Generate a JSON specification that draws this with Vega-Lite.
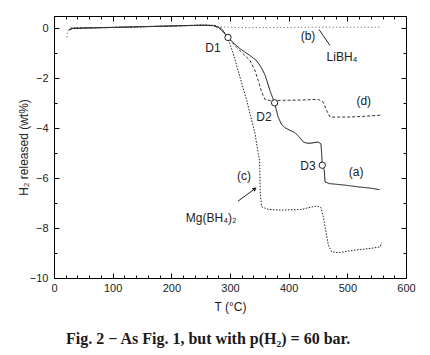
{
  "$schema": "https://vega.github.io/schema/vega-lite/v6.json",
  "width": 352,
  "height": 262,
  "autosize": "none",
  "padding": {"left": 54, "top": 16, "right": 24, "bottom": 77},
  "background": "white",
  "config": {
    "view": {"stroke": "#000", "strokeWidth": 1},
    "axis": {"domain": false, "grid": false, "labelFont": "Liberation Sans", "labelFontSize": 11, "labelColor": "#222", "tickColor": "#000", "tickWidth": 1, "titleFont": "Liberation Sans", "titleFontWeight": "normal", "titleFontSize": 12, "titleColor": "#222"},
    "text": {"font": "Liberation Sans", "fontSize": 12, "color": "#222"}
  },
  "title": {"text": "Fig. 2 − As Fig. 1, but with p(H₂) = 60 bar.", "orient": "bottom", "anchor": "start", "frame": "group", "dx": 12, "offset": 19, "font": "Liberation Serif", "fontSize": 16, "fontWeight": "bold", "color": "#1a1a1a"},
  "datasets": {
    "curves": [
      {"s": "a", "T": 26, "H": -0.05}, {"s": "a", "T": 30, "H": 0.0}, {"s": "a", "T": 60, "H": 0.02}, {"s": "a", "T": 100, "H": 0.04}, {"s": "a", "T": 150, "H": 0.07}, {"s": "a", "T": 200, "H": 0.1}, {"s": "a", "T": 250, "H": 0.13}, {"s": "a", "T": 272, "H": 0.12}, {"s": "a", "T": 282, "H": 0.02}, {"s": "a", "T": 290, "H": -0.18}, {"s": "a", "T": 297, "H": -0.38}, {"s": "a", "T": 307, "H": -0.6}, {"s": "a", "T": 317, "H": -0.81}, {"s": "a", "T": 332, "H": -1.05}, {"s": "a", "T": 345, "H": -1.28}, {"s": "a", "T": 353, "H": -1.55}, {"s": "a", "T": 360, "H": -1.88}, {"s": "a", "T": 368, "H": -2.48}, {"s": "a", "T": 376, "H": -2.98}, {"s": "a", "T": 382, "H": -3.55}, {"s": "a", "T": 388, "H": -3.85}, {"s": "a", "T": 394, "H": -3.98}, {"s": "a", "T": 402, "H": -4.08}, {"s": "a", "T": 411, "H": -4.18}, {"s": "a", "T": 418, "H": -4.35}, {"s": "a", "T": 425, "H": -4.55}, {"s": "a", "T": 432, "H": -4.6}, {"s": "a", "T": 440, "H": -4.59}, {"s": "a", "T": 450, "H": -4.55}, {"s": "a", "T": 455, "H": -4.62}, {"s": "a", "T": 456.5, "H": -5.1}, {"s": "a", "T": 457.3, "H": -5.48}, {"s": "a", "T": 460.7, "H": -5.68}, {"s": "a", "T": 462, "H": -6.15}, {"s": "a", "T": 470, "H": -6.22}, {"s": "a", "T": 480, "H": -6.24}, {"s": "a", "T": 500, "H": -6.29}, {"s": "a", "T": 519, "H": -6.35}, {"s": "a", "T": 540, "H": -6.4}, {"s": "a", "T": 555, "H": -6.46},
      {"s": "b", "T": 22, "H": -0.35}, {"s": "b", "T": 23.5, "H": -0.05}, {"s": "b", "T": 30, "H": 0.02}, {"s": "b", "T": 100, "H": 0.05}, {"s": "b", "T": 200, "H": 0.1}, {"s": "b", "T": 260, "H": 0.13}, {"s": "b", "T": 290, "H": 0.06}, {"s": "b", "T": 330, "H": 0.03}, {"s": "b", "T": 380, "H": 0.04}, {"s": "b", "T": 430, "H": 0.05}, {"s": "b", "T": 480, "H": 0.05}, {"s": "b", "T": 520, "H": 0.05}, {"s": "b", "T": 555, "H": 0.05},
      {"s": "c", "T": 25, "H": -0.08}, {"s": "c", "T": 30, "H": 0.02}, {"s": "c", "T": 80, "H": 0.03}, {"s": "c", "T": 140, "H": 0.06}, {"s": "c", "T": 200, "H": 0.1}, {"s": "c", "T": 250, "H": 0.14}, {"s": "c", "T": 275, "H": 0.12}, {"s": "c", "T": 286, "H": 0.0}, {"s": "c", "T": 294, "H": -0.28}, {"s": "c", "T": 300, "H": -0.62}, {"s": "c", "T": 305.6, "H": -1.01}, {"s": "c", "T": 317, "H": -1.95}, {"s": "c", "T": 328.5, "H": -2.88}, {"s": "c", "T": 334, "H": -3.41}, {"s": "c", "T": 342.6, "H": -4.2}, {"s": "c", "T": 348, "H": -5.0}, {"s": "c", "T": 350.5, "H": -5.3}, {"s": "c", "T": 351.5, "H": -6.6}, {"s": "c", "T": 354, "H": -7.15}, {"s": "c", "T": 365, "H": -7.25}, {"s": "c", "T": 388, "H": -7.28}, {"s": "c", "T": 422, "H": -7.25}, {"s": "c", "T": 440, "H": -7.15}, {"s": "c", "T": 447.6, "H": -7.12}, {"s": "c", "T": 455, "H": -7.17}, {"s": "c", "T": 459, "H": -7.55}, {"s": "c", "T": 463.6, "H": -8.15}, {"s": "c", "T": 467.6, "H": -8.68}, {"s": "c", "T": 473.3, "H": -8.95}, {"s": "c", "T": 484.6, "H": -8.99}, {"s": "c", "T": 513, "H": -8.88}, {"s": "c", "T": 541.5, "H": -8.81}, {"s": "c", "T": 555.6, "H": -8.75}, {"s": "c", "T": 558.5, "H": -8.59},
      {"s": "d", "T": 27, "H": -0.06}, {"s": "d", "T": 32, "H": 0.01}, {"s": "d", "T": 90, "H": 0.04}, {"s": "d", "T": 160, "H": 0.08}, {"s": "d", "T": 220, "H": 0.11}, {"s": "d", "T": 265, "H": 0.13}, {"s": "d", "T": 280, "H": 0.05}, {"s": "d", "T": 290, "H": -0.15}, {"s": "d", "T": 297, "H": -0.38}, {"s": "d", "T": 311, "H": -0.75}, {"s": "d", "T": 334, "H": -1.28}, {"s": "d", "T": 342, "H": -1.65}, {"s": "d", "T": 348, "H": -2.08}, {"s": "d", "T": 354, "H": -2.55}, {"s": "d", "T": 359.6, "H": -2.85}, {"s": "d", "T": 370, "H": -2.9}, {"s": "d", "T": 388, "H": -2.88}, {"s": "d", "T": 420, "H": -2.87}, {"s": "d", "T": 450.5, "H": -2.84}, {"s": "d", "T": 459, "H": -2.95}, {"s": "d", "T": 465, "H": -3.3}, {"s": "d", "T": 470.5, "H": -3.55}, {"s": "d", "T": 501.6, "H": -3.55}, {"s": "d", "T": 530, "H": -3.52}, {"s": "d", "T": 558.5, "H": -3.47}
    ],
    "circles": [
      {"T": 296.6, "H": -0.36}, {"T": 376, "H": -2.98}, {"T": 457.3, "H": -5.48}
    ],
    "labels": [
      {"t": "D1", "T": 271, "H": -0.8}, {"t": "(b)", "T": 433, "H": -0.32}, {"t": "LiBH₄", "T": 491, "H": -1.16}, {"t": "(d)", "T": 528, "H": -2.92}, {"t": "D2", "T": 358, "H": -3.56}, {"t": "D3", "T": 433, "H": -5.52}, {"t": "(a)", "T": 515, "H": -5.76}, {"t": "(c)", "T": 324, "H": -5.92}, {"t": "Mg(BH₄)₂", "T": 268, "H": -7.6}
    ],
    "leaders": [
      {"T": 451.7, "H": -0.04, "T2": 470.4, "H2": -0.68},
      {"T": 313.6, "H": -6.92, "T2": 342.5, "H2": -6.42}
    ],
    "heads": [
      {"T": 342.5, "H": -6.42}
    ]
  },
  "resolve": {"axis": {"x": "independent", "y": "independent"}},
  "layer": [
    {
      "data": {"name": "curves"},
      "mark": {"type": "line", "strokeWidth": 1, "interpolate": "linear"},
      "encoding": {
        "x": {"field": "T", "type": "quantitative", "scale": {"domain": [0, 600], "nice": false, "zero": false},
          "axis": {"orient": "bottom", "values": [0, 100, 200, 300, 400, 500, 600], "tickSize": -5, "labelPadding": 9, "title": "T (°C)", "titlePadding": 8, "labelFlush": false}},
        "y": {"field": "H", "type": "quantitative", "scale": {"domain": [-10, 0.5], "nice": false, "zero": false},
          "axis": {"orient": "left", "values": [-10, -8, -6, -4, -2, 0], "tickSize": -5, "labelPadding": 11, "title": "H₂ released (wt%)", "titlePadding": -1, "labelFlush": false}},
        "strokeDash": {"field": "s", "type": "nominal", "scale": {"domain": ["a", "b", "c", "d"], "range": [[1, 0], [1, 2.5], [1.5, 1.5], [3, 2]]}, "legend": null},
        "color": {"field": "s", "type": "nominal", "scale": {"domain": ["a", "b", "c", "d"], "range": ["#111", "#555", "#222", "#333"]}, "legend": null}
      }
    },
    {
      "data": {"name": "circles"},
      "mark": {"type": "point", "shape": "circle", "size": 40, "filled": true, "fill": "white", "stroke": "#222", "strokeWidth": 1, "opacity": 1},
      "encoding": {
        "x": {"field": "T", "type": "quantitative", "axis": {"orient": "bottom", "values": [20, 40, 60, 80, 120, 140, 160, 180, 220, 240, 260, 280, 320, 340, 360, 380, 420, 440, 460, 480, 520, 540, 560, 580], "tickSize": -3, "labels": false, "title": null}},
        "y": {"field": "H", "type": "quantitative", "axis": {"orient": "left", "values": [-9, -7, -5, -3, -1], "tickSize": -3, "labels": false, "title": null}}
      }
    },
    {
      "data": {"name": "labels"},
      "mark": {"type": "text", "align": "center", "baseline": "middle"},
      "encoding": {
        "x": {"field": "T", "type": "quantitative", "axis": {"orient": "top", "values": [0, 100, 200, 300, 400, 500, 600], "tickSize": -5, "labels": false, "title": null}},
        "y": {"field": "H", "type": "quantitative", "axis": {"orient": "right", "values": [-10, -8, -6, -4, -2, 0], "tickSize": -5, "labels": false, "title": null}},
        "text": {"field": "t", "type": "nominal"}
      }
    },
    {
      "data": {"name": "leaders"},
      "mark": {"type": "rule", "color": "#222", "strokeWidth": 1},
      "encoding": {
        "x": {"field": "T", "type": "quantitative", "axis": {"orient": "top", "values": [20, 40, 60, 80, 120, 140, 160, 180, 220, 240, 260, 280, 320, 340, 360, 380, 420, 440, 460, 480, 520, 540, 560, 580], "tickSize": -3, "labels": false, "title": null}},
        "y": {"field": "H", "type": "quantitative", "axis": {"orient": "right", "values": [-9, -7, -5, -3, -1], "tickSize": -3, "labels": false, "title": null}},
        "x2": {"field": "T2"},
        "y2": {"field": "H2"}
      }
    },
    {
      "data": {"name": "heads"},
      "mark": {"type": "point", "shape": "triangle-up", "size": 22, "filled": true, "color": "#222", "angle": 52, "opacity": 1},
      "encoding": {
        "x": {"field": "T", "type": "quantitative", "axis": null},
        "y": {"field": "H", "type": "quantitative", "axis": null}
      }
    }
  ]
}
